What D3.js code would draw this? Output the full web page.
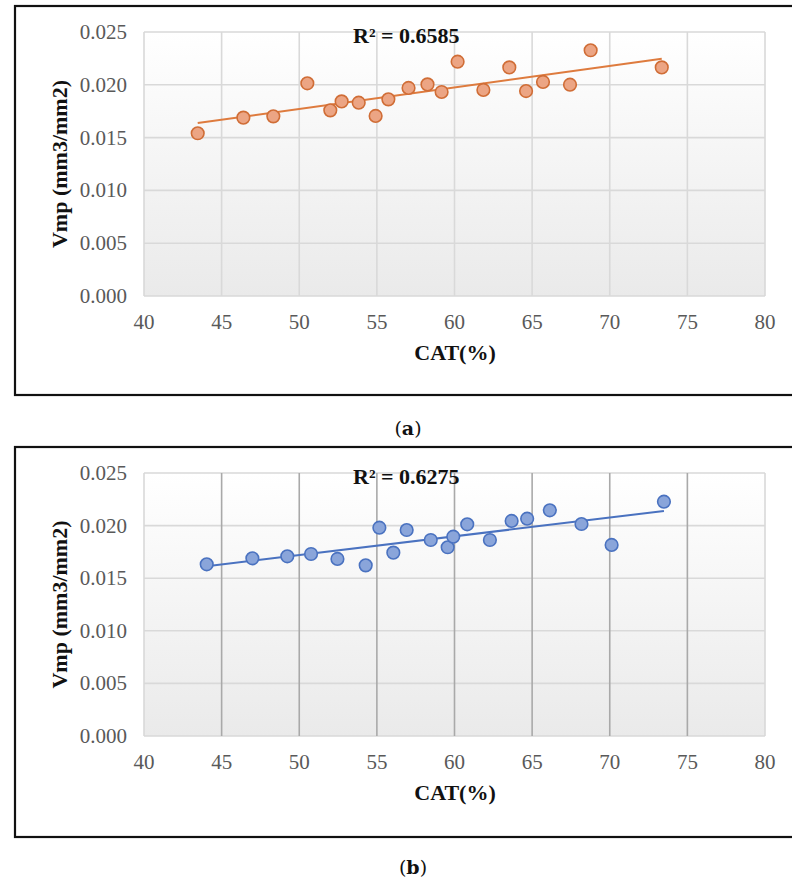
<!DOCTYPE html>
<html>
<head>
<meta charset="utf-8">
<script src="https://cdn.jsdelivr.net/npm/d3@7"></script>
<style>
  body { margin: 0; background: #fff; }
  svg { display: block; }
</style>
</head>
<body>
<div id="chart"></div>
<script>
// --- DATA ---
const catA = [43.46, 46.4, 48.33, 50.52, 52.0, 52.73, 53.83, 54.92, 55.74, 57.04,
              58.26, 59.17, 60.2, 61.86, 63.53, 64.61, 65.7, 67.44, 68.77, 73.35];
const vmpA = [0.01541, 0.01689, 0.01701, 0.02014, 0.01758, 0.01843, 0.01831, 0.01705, 0.01862, 0.0197,
              0.02004, 0.01932, 0.02219, 0.01951, 0.02165, 0.01941, 0.02027, 0.02001, 0.02327, 0.02165];
const catB = [44.04, 46.98, 49.23, 50.76, 52.46, 54.28, 55.16, 56.06, 56.92, 58.47,
              59.56, 59.92, 60.82, 62.28, 63.68, 64.68, 66.14, 68.18, 70.12, 73.49];
const vmpB = [0.01632, 0.01689, 0.01708, 0.0173, 0.01683, 0.01622, 0.0198, 0.01743, 0.01958, 0.01863,
              0.01794, 0.01895, 0.02012, 0.01863, 0.02044, 0.02066, 0.02145, 0.02015, 0.01816, 0.02227];
const xTicks = [40, 45, 50, 55, 60, 65, 70, 75, 80];
const yTicks = [0, 0.005, 0.010, 0.015, 0.020, 0.025];
const r2Labels = ["R² = 0.6585", "R² = 0.6275"];
const captions = ["a", "b"];

const width = 792, height = 883;
const serif = "'Liberation Serif', 'Times New Roman', serif";

const svg = d3.select("#chart").append("svg")
  .attr("width", width).attr("height", height);

// plot-area gradient (white to light gray)
const grad = svg.append("defs").append("linearGradient")
  .attr("id", "plotBg").attr("x1", 0).attr("y1", 0).attr("x2", 0).attr("y2", 1);
grad.append("stop").attr("offset", "0%").attr("stop-color", "#ffffff");
grad.append("stop").attr("offset", "100%").attr("stop-color", "#eaeaea");

// least squares fit
function fit(xs, ys) {
  const mx = d3.mean(xs), my = d3.mean(ys);
  let sxy = 0, sxx = 0;
  xs.forEach((x, i) => { sxy += (x - mx) * (ys[i] - my); sxx += (x - mx) * (x - mx); });
  const slope = sxy / sxx;
  return { slope, intercept: my - slope * mx };
}

function drawPanel(opt) {
  const g = svg.append("g");

  // outer frame (right side runs off the picture)
  g.append("rect")
    .attr("x", 15).attr("y", opt.top)
    .attr("width", 800).attr("height", opt.frameH)
    .attr("fill", "none").attr("stroke", "#111").attr("stroke-width", 2.2);

  const x = d3.scaleLinear().domain([40, 80]).range([144, 765]);
  const y = d3.scaleLinear().domain([0, 0.025]).range([opt.plotBottom, opt.plotTop]);

  g.append("rect")
    .attr("x", x(40)).attr("y", y(0.025))
    .attr("width", x(80) - x(40)).attr("height", y(0) - y(0.025))
    .attr("fill", "url(#plotBg)");

  // horizontal grid
  g.selectAll(".hgrid").data(yTicks).enter().append("line")
    .attr("x1", x(40)).attr("x2", x(80))
    .attr("y1", d => y(d)).attr("y2", d => y(d))
    .attr("stroke", "#d9d9d9").attr("stroke-width", 1.6);

  // vertical grid
  g.selectAll(".vgrid").data(xTicks).enter().append("line")
    .attr("x1", d => x(d)).attr("x2", d => x(d))
    .attr("y1", y(0)).attr("y2", y(0.025))
    .attr("stroke", d => (d === 40 || d === 80) ? "#d9d9d9" : opt.vGridColor)
    .attr("stroke-width", 1.6);

  // tick labels
  g.selectAll(".ylab").data(yTicks).enter().append("text")
    .attr("x", 127).attr("y", d => y(d) + 7)
    .attr("text-anchor", "end")
    .style("font-family", serif).style("font-size", "21px").attr("fill", "#595959")
    .text(d3.format(".3f"));

  g.selectAll(".xlab").data(xTicks).enter().append("text")
    .attr("x", d => x(d)).attr("y", opt.plotBottom + 33)
    .attr("text-anchor", "middle")
    .style("font-family", serif).style("font-size", "21px").attr("fill", "#595959")
    .text(d => d);

  // axis titles
  g.append("text")
    .attr("x", 455).attr("y", opt.plotBottom + 64)
    .attr("text-anchor", "middle")
    .style("font-family", serif).style("font-size", "22px").style("font-weight", "bold")
    .attr("fill", "#111").text("CAT(%)");

  g.append("text")
    .attr("transform", `translate(67, ${(opt.plotTop + opt.plotBottom) / 2}) rotate(-90)`)
    .attr("text-anchor", "middle")
    .style("font-family", serif).style("font-size", "22px").style("font-weight", "bold")
    .attr("fill", "#111").text("Vmp (mm3/mm2)");

  // trend line
  const f = fit(opt.xs, opt.ys);
  const x0 = d3.min(opt.xs), x1 = d3.max(opt.xs);
  g.append("line")
    .attr("x1", x(x0)).attr("y1", y(f.intercept + f.slope * x0))
    .attr("x2", x(x1)).attr("y2", y(f.intercept + f.slope * x1))
    .attr("stroke", opt.lineColor).attr("stroke-width", 2);

  // points
  g.selectAll(".pt").data(opt.xs).enter().append("circle")
    .attr("cx", d => x(d))
    .attr("cy", (d, i) => y(opt.ys[i]))
    .attr("r", 6.3)
    .attr("fill", opt.fill).attr("stroke", opt.stroke).attr("stroke-width", 1.6);

  // R² label
  g.append("text")
    .attr("x", 353).attr("y", opt.plotTop + 11)
    .style("font-family", serif).style("font-size", "22px").style("font-weight", "bold")
    .attr("fill", "#111").text(opt.r2);

  // caption
  const cap = g.append("text")
    .attr("x", opt.capX).attr("y", opt.capY)
    .attr("text-anchor", "middle")
    .style("font-family", "'DejaVu Serif', serif").style("font-size", "19px").attr("fill", "#111");
  cap.append("tspan").text("(");
  cap.append("tspan").style("font-weight", "bold").text(opt.caption);
  cap.append("tspan").text(")");
}

drawPanel({
  top: 6, frameH: 389, plotTop: 32, plotBottom: 296,
  xs: catA, ys: vmpA, r2: r2Labels[0], caption: captions[0],
  fill: "#eca584", stroke: "#d06d36", lineColor: "#de7b3e",
  vGridColor: "#d9d9d9", capX: 408, capY: 435
});

drawPanel({
  top: 447, frameH: 390, plotTop: 473, plotBottom: 736,
  xs: catB, ys: vmpB, r2: r2Labels[1], caption: captions[1],
  fill: "#8aa5da", stroke: "#4a72c0", lineColor: "#4a72c0",
  vGridColor: "#a9a9a9", capX: 413, capY: 874
});
</script>
</body>
</html>
